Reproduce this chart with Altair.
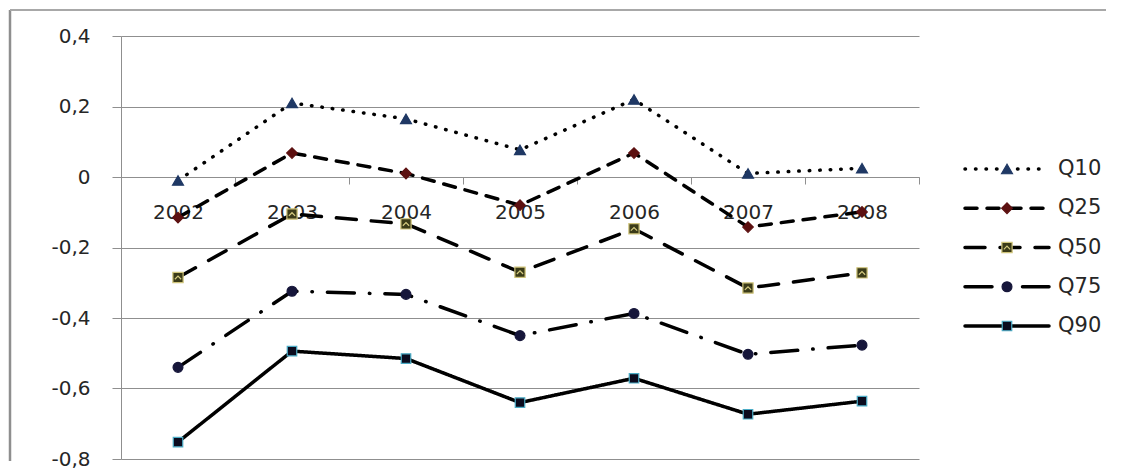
import altair as alt
import pandas as pd

years = ["2002", "2003", "2004", "2005", "2006", "2007", "2008"]
series = ["Q10", "Q25", "Q50", "Q75", "Q90"]
q10 = [-0.01, 0.21, 0.165, 0.077, 0.22, 0.01, 0.025]
q25 = [-0.115, 0.068, 0.01, -0.08, 0.068, -0.142, -0.099]
q50 = [-0.285, -0.105, -0.133, -0.27, -0.147, -0.315, -0.272]
q75 = [-0.54, -0.324, -0.333, -0.45, -0.387, -0.503, -0.477]
q90 = [-0.752, -0.494, -0.515, -0.64, -0.571, -0.673, -0.636]
values = {"Q10": q10, "Q25": q25, "Q50": q50, "Q75": q75, "Q90": q90}
y_ticks = [-0.8, -0.6, -0.4, -0.2, 0, 0.2, 0.4]

df = pd.DataFrame(
    [{"year": y, "series": s, "value": v} for s in series for y, v in zip(years, values[s])]
)

GRID = "#8f8f8f"
TEXT = "#262626"
FONT = "DejaVu Sans"
W, H = 798, 423

dash_range = [[0.5, 10], [12, 10], [20, 15], [27, 15, 0.5, 15], [1, 0]]
shape_range = ["triangle-up", "diamond", "square", "circle", "square"]
fill_range = ["#1f3864", "#5c1010", "#3b3b18", "#16163a", "#0b0b1e"]
stroke_range = ["#1f3864", "#5c1010", "#cfc47a", "#16163a", "#4bacc6"]
size_range = [120, 90, 130, 140, 110]
CHEVRON = "M-0.6,0.35L0,-0.25L0.6,0.35"

dash_enc = alt.StrokeDash("series:N", scale=alt.Scale(domain=series, range=dash_range), legend=None)
shape_enc = alt.Shape("series:N", scale=alt.Scale(domain=series, range=shape_range), legend=None)
fill_enc = alt.Fill("series:N", scale=alt.Scale(domain=series, range=fill_range), legend=None)
stroke_enc = alt.Stroke("series:N", scale=alt.Scale(domain=series, range=stroke_range), legend=None)
size_enc = alt.Size("series:N", scale=alt.Scale(domain=series, range=size_range), legend=None)

x_enc = alt.X(
    "year:N", sort=years, title=None,
    scale=alt.Scale(type="band", domain=years, paddingInner=0, paddingOuter=0),
    axis=alt.Axis(orient="bottom", offset=-282, labelAngle=0, tickBand="extent",
                  tickSize=7, labelPadding=18, domainColor=GRID, tickColor=GRID,
                  labelFont=FONT, labelFontSize=20, labelColor=TEXT, grid=False),
)
y_enc = alt.Y(
    "value:Q", title=None,
    scale=alt.Scale(domain=[-0.8, 0.4], nice=False, zero=False),
    axis=alt.Axis(values=y_ticks, grid=True, gridColor=GRID, domainColor=GRID, tickColor=GRID,
                  tickSize=9, labelPadding=22, labelFont=FONT, labelFontSize=20, labelColor=TEXT,
                  labelExpr="datum.value == 0 ? '0' : replace(replace(format(datum.value, '.1f'), '.', ','), '\u2212', '-')"),
)

base = alt.Chart(df)
lines = base.mark_line(color="black", strokeWidth=3.5, strokeCap="round").encode(
    x=x_enc, y=y_enc, detail="series:N", strokeDash=dash_enc
)
points = base.mark_point(filled=True, opacity=1, strokeWidth=1.2).encode(
    x=x_enc, y=y_enc, shape=shape_enc, fill=fill_enc, stroke=stroke_enc, size=size_enc
)
chevrons = base.transform_filter(alt.datum.series == "Q50").mark_point(
    shape=CHEVRON, filled=False, stroke="#d6cc80", strokeWidth=1.2, size=110, opacity=1
).encode(x=x_enc, y=y_enc)

frame_df = pd.DataFrame({"k": [0]})
frame_left = alt.Chart(frame_df).mark_rule(color="#8e8e8e", strokeWidth=2.5).encode(
    x=alt.value(-111), y=alt.value(-26), y2=alt.value(H + 2)
)
frame_top = alt.Chart(frame_df).mark_rule(color="#a8a8a8", strokeWidth=2).encode(
    x=alt.value(-111), x2=alt.value(985), y=alt.value(-26)
)

main = alt.layer(lines, points, chevrons, frame_left, frame_top).properties(width=W, height=H)

# legend panel
leg_line_df = pd.DataFrame([{"series": s, "x": xx} for s in series for xx in (0, 1)])
leg_pt_df = pd.DataFrame({"series": series, "x": [0.5] * len(series)})
leg_txt_df = pd.DataFrame({"series": series, "x": [1] * len(series)})
lx = alt.X("x:Q", scale=alt.Scale(domain=[0, 1], nice=False, zero=False), axis=None)
ly = alt.Y("series:N", sort=series, scale=alt.Scale(type="point", domain=series, range=[133, 290], padding=0), axis=None)

leg_lines = alt.Chart(leg_line_df).mark_line(color="black", strokeWidth=3.5, strokeCap="round").encode(
    x=lx, y=ly, detail="series:N", strokeDash=dash_enc
)
leg_pts = alt.Chart(leg_pt_df).mark_point(filled=True, opacity=1, strokeWidth=1.2).encode(
    x=lx, y=ly, shape=shape_enc, fill=fill_enc, stroke=stroke_enc, size=size_enc
)
leg_chev = alt.Chart(leg_pt_df).transform_filter(alt.datum.series == "Q50").mark_point(
    shape=CHEVRON, filled=False, stroke="#d6cc80", strokeWidth=1.2, size=110, opacity=1
).encode(x=lx, y=ly)
leg_txt = alt.Chart(leg_txt_df).mark_text(align="left", baseline="middle", dx=9, font=FONT,
                                          fontSize=21, color=TEXT).encode(
    x=lx, y=ly, text="series:N"
)
legend = alt.layer(leg_lines, leg_pts, leg_chev, leg_txt).properties(width=84, height=H)

chart = alt.hconcat(main, legend, spacing=46, bounds="flush").properties(
    padding={"left": 0, "top": 0, "right": 0, "bottom": 0}, background="white"
).configure_view(stroke=None)

chart.save("out.html", embed_options={"renderer": "svg", "actions": False})
